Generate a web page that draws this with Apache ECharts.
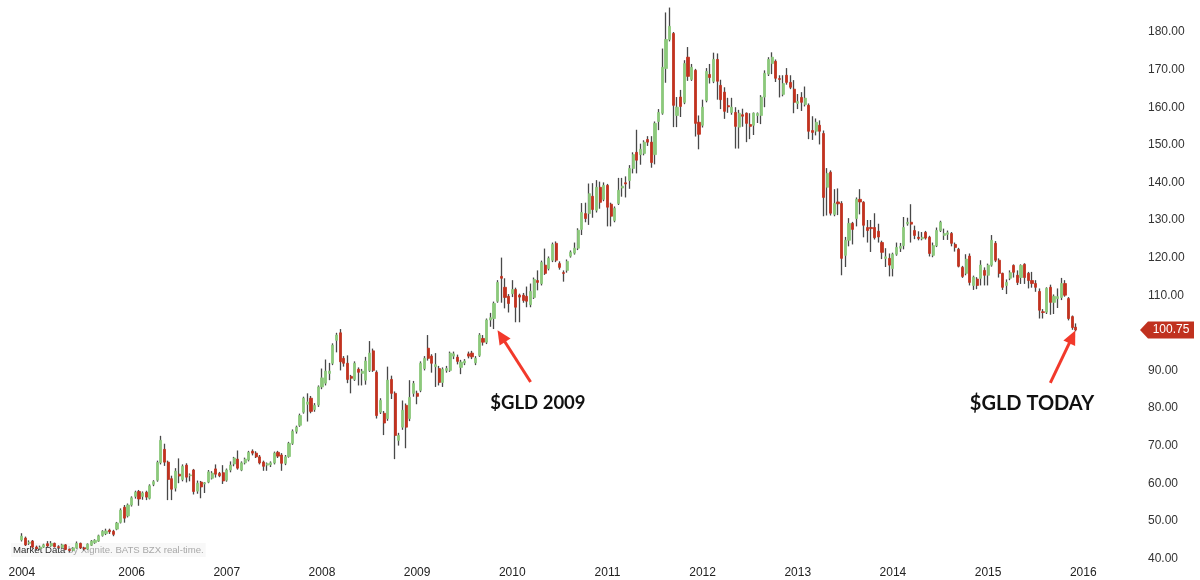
<!DOCTYPE html>
<html>
<head>
<meta charset="utf-8">
<title>GLD</title>
<script src="https://cdn.jsdelivr.net/npm/echarts@6/dist/echarts.min.js"></script>
<style>
  html, body { margin: 0; padding: 0; background: #fff; }
  #chart { width: 1200px; height: 580px; }
</style>
</head>
<body>
<div id="chart"></div>
<script>
// two-week candles of GLD, Nov 2004 .. Dec 2015 — [open, close, low, high]
const candles = [
  [44.9,45.9,44.5,46.7],[45.4,43.6,43.3,45.8],[44.0,44.3,43.6,44.8],[44.6,43.0,42.6,44.9],[43.0,42.6,42.2,43.4],
  [42.6,43.0,42.3,43.4],[43.0,43.6,42.8,43.9],[43.9,43.3,43.0,44.6],[43.3,44.0,43.1,44.6],[44.0,43.1,42.9,44.2],
  [43.1,42.9,42.5,43.5],[42.9,43.6,42.7,43.9],[43.6,42.4,42.2,43.8],[42.4,42.1,41.6,42.6],[42.1,42.8,41.9,43.0],
  [42.8,44.0,42.6,44.5],[44.0,42.8,42.5,44.2],[42.8,42.5,42.1,43.1],[42.5,43.8,42.3,44.0],[43.5,44.6,43.3,44.9],
  [44.2,44.8,43.9,45.1],[44.6,46.0,44.4,46.3],[46.1,47.2,45.8,47.5],[46.6,47.3,46.2,47.9],[47.5,47.1,46.5,47.9],
  [47.2,46.4,45.9,47.6],[47.8,49.4,47.5,49.7],[49.6,52.8,49.3,53.3],[53.6,50.7,49.5,54.2],[51.3,54.2,50.9,54.6],
  // 2006
  [54.2,56.1,53.8,56.5],[56.5,57.6,55.9,58.0],[57.8,55.8,54.0,58.2],[56.5,57.4,55.6,57.8],[57.6,56.3,55.5,58.0],
  [56.0,59.3,55.7,59.7],[59.7,60.4,59.2,60.8],[60.8,65.5,60.4,66.0],[65.5,71.4,65.0,72.6],[69.0,65.6,64.6,70.5],
  [65.6,61.0,55.5,66.0],[61.2,58.4,55.5,62.0],[58.7,63.2,57.8,64.0],[62.4,61.9,60.0,66.6],[61.0,64.5,60.5,65.0],
  [64.8,61.6,60.2,65.3],[62.0,62.2,60.5,62.6],[63.5,57.8,57.0,63.8],[57.9,60.0,57.2,60.7],[60.3,59.0,56.0,60.6],
  [59.8,60.1,57.4,60.3],[60.3,63.0,60.0,63.5],[61.3,62.7,61.0,63.2],[63.8,62.4,61.5,65.0],[62.6,62.0,61.6,63.0],
  [62.8,60.6,59.8,64.8],
  // 2007
  [60.8,63.5,60.4,63.9],[63.5,64.8,62.9,65.8],[65.1,66.7,64.5,67.0],[66.4,64.0,63.6,68.7],[63.5,65.4,63.2,65.8],
  [65.4,66.4,65.0,66.8],[66.2,68.2,65.8,68.6],[68.5,68.0,67.4,69.0],[68.0,67.0,66.7,68.5],[67.0,65.4,65.0,67.5],
  [65.6,64.5,63.3,66.0],[64.8,65.2,63.3,65.5],[64.9,65.4,64.3,65.8],[65.4,68.0,65.0,68.4],[68.2,67.2,66.7,68.6],
  [67.5,65.3,63.3,68.0],[65.3,67.0,64.8,67.5],[67.1,70.6,66.8,71.0],[70.6,73.8,70.2,74.3],[73.8,74.9,73.2,75.3],
  [75.4,78.0,75.0,78.5],[78.9,82.6,78.5,83.0],[81.0,81.6,76.4,83.9],[82.6,79.1,78.6,83.2],[79.6,80.7,79.0,81.3],
  [80.8,85.6,80.3,86.0],
  // 2008
  [85.6,88.0,85.0,90.5],[86.6,89.8,86.0,92.9],[89.2,89.8,87.4,92.0],[91.9,96.7,91.4,97.2],[98.0,99.4,94.8,100.0],
  [100.0,92.3,90.0,101.0],[93.2,91.9,91.0,93.8],[91.9,87.6,86.6,94.0],[88.4,87.9,83.9,88.8],[87.6,91.9,87.2,92.4],
  [90.3,89.5,86.0,90.8],[89.2,89.8,86.0,90.4],[87.4,92.5,86.2,93.6],[90.0,94.6,89.6,97.8],[95.2,90.0,89.6,95.8],
  [89.5,78.0,77.2,90.0],[78.9,82.0,78.4,82.6],[78.6,76.0,72.8,79.2],[77.2,87.4,76.6,91.0],[87.6,83.9,82.4,88.6],
  [83.9,72.7,66.4,84.4],[71.4,72.7,70.0,73.4],[74.9,79.4,74.2,82.0],[80.7,74.9,69.3,81.2],[77.2,82.8,76.5,87.4],
  [83.9,86.5,83.0,87.2],
  // 2009
  [83.9,83.1,81.0,84.6],[84.7,91.9,84.2,92.4],[90.5,93.2,90.0,93.8],[95.9,93.2,92.6,99.4],[93.8,91.9,89.4,94.3],
  [91.0,91.5,85.6,94.6],[90.5,86.8,86.0,91.2],[86.8,90.3,85.6,90.8],[90.0,90.5,89.4,91.2],[90.0,94.6,89.6,95.0],
  [93.8,94.4,93.0,95.0],[93.5,92.4,91.6,94.2],[90.8,92.2,89.0,92.8],[92.0,92.5,91.4,93.0],[94.4,93.8,93.2,95.0],
  [94.6,93.6,93.0,95.2],[92.0,93.2,91.4,93.8],[94.0,99.4,93.6,99.9],[98.5,97.5,96.6,99.4],[97.5,103.4,97.0,103.8],
  [103.4,104.0,101.6,105.3],[103.8,107.8,101.0,108.3],[108.4,113.4,108.0,114.0],[115.0,114.5,108.0,120.0],[112.1,109.4,106.5,114.5],
  [109.7,107.8,105.4,110.3],
  // 2010
  [110.4,111.5,109.5,114.0],[111.5,106.8,102.8,112.0],[110.0,109.5,102.8,110.4],[110.0,108.6,108.0,110.6],[109.7,108.4,106.8,112.3],
  [107.5,111.0,106.8,113.1],[109.4,114.2,109.0,114.7],[113.9,113.4,111.3,116.6],[113.1,118.7,112.6,119.2],[118.0,115.8,115.4,122.4],
  [117.1,119.8,116.6,120.3],[119.3,123.5,118.8,124.0],[123.8,119.3,118.8,124.3],[118.4,117.4,116.8,119.0],[116.0,115.8,113.6,116.6],
  [116.6,119.0,116.0,119.5],[120.4,121.4,120.0,121.9],[121.2,122.5,120.8,124.0],[122.5,127.3,122.0,127.8],[127.5,132.0,126.0,134.5],
  [131.7,130.4,129.4,134.6],[131.7,137.0,128.7,139.7],[136.3,132.8,130.6,139.8],[132.6,138.7,132.0,140.6],[138.7,134.7,133.0,140.2],
  [135.5,139.2,135.0,140.0],
  // 2011
  [139.2,133.4,128.3,139.6],[134.2,131.0,128.3,134.6],[129.9,133.1,129.4,133.6],[134.4,137.9,134.0,141.2],[138.5,139.0,136.2,141.2],
  [139.9,139.6,136.0,141.6],[140.5,143.7,138.3,144.6],[143.7,147.4,142.4,148.0],[148.0,145.9,142.4,154.0],[147.4,148.8,144.7,150.3],
  [147.7,150.7,147.2,151.2],[151.4,150.7,149.7,152.3],[150.7,145.3,143.9,152.3],[147.4,155.7,144.8,156.2],[156.2,158.6,153.9,159.5],
  [158.4,170.6,158.0,175.6],[170.3,178.0,166.5,185.2],[178.0,181.5,177.5,186.5],[179.6,160.5,154.7,180.0],[157.8,160.0,154.7,162.7],
  [162.7,160.2,157.4,164.6],[161.3,171.6,160.8,172.5],[173.3,168.2,167.0,176.0],[167.4,170.6,167.0,171.5],[169.8,155.7,152.2,170.2],
  [156.0,152.8,148.8,157.8],
  // 2012
  [155.2,160.0,154.6,162.0],[161.8,169.5,161.3,170.4],[168.7,167.9,166.3,171.5],[166.9,172.7,166.4,174.5],[172.7,166.9,162.0,174.3],
  [165.8,162.0,159.5,167.3],[164.0,158.9,156.9,165.3],[160.4,160.1,158.5,162.5],[158.6,160.0,158.0,162.5],[158.6,154.9,149.0,160.0],
  [154.7,158.4,149.0,159.3],[158.0,157.6,154.8,159.6],[158.4,155.7,150.7,158.6],[155.4,154.9,151.5,158.4],[155.2,158.4,152.6,158.6],
  [157.8,158.3,155.8,158.6],[157.8,162.7,155.5,163.2],[162.7,169.0,160.0,169.8],[168.8,172.7,168.3,173.3],[171.6,173.3,168.8,174.6],
  [172.2,167.7,166.7,172.7],[167.6,167.4,162.6,168.5],[163.4,166.3,162.9,168.5],[168.5,166.6,166.0,170.4],[166.6,165.3,164.8,168.5],
  [164.8,161.3,158.4,167.2],
  // 2013
  [161.0,161.5,159.5,163.5],[162.6,161.3,159.0,164.0],[160.7,162.4,160.2,165.5],[160.5,153.6,151.5,161.0],[153.8,153.3,151.3,157.6],
  [153.6,156.0,152.5,157.0],[155.2,153.6,150.1,156.5],[153.0,136.0,131.0,153.8],[138.7,142.4,131.2,143.8],[142.7,131.8,131.2,143.2],
  [131.5,134.4,131.0,138.2],[134.8,134.3,131.3,138.4],[134.4,119.8,115.3,135.0],[120.6,124.6,117.5,125.5],[124.6,129.1,123.0,130.5],
  [129.1,127.5,123.5,129.5],[130.4,135.5,128.3,136.0],[135.5,134.8,131.5,138.2],[134.7,128.6,125.4,135.0],[128.0,127.2,124.0,130.0],
  [128.0,127.7,121.5,130.0],[128.0,125.3,124.8,131.8],[127.0,125.5,124.0,129.0],[124.0,121.4,119.6,124.5],[119.8,120.2,117.5,122.5],
  [119.8,118.0,115.0,121.1],
  // 2014
  [117.1,120.9,115.0,121.3],[120.9,122.7,120.5,124.0],[122.5,123.0,121.5,123.9],[123.2,128.0,122.2,130.8],[129.0,129.4,128.5,130.6],
  [129.4,128.9,124.0,134.2],[127.2,125.9,124.9,128.5],[125.4,125.1,124.6,127.0],[125.0,125.4,124.6,126.8],[126.7,125.2,124.8,127.1],
  [125.4,121.1,120.3,125.8],[120.6,123.2,120.1,124.0],[123.2,127.2,122.8,128.0],[127.2,129.4,126.8,129.8],[125.9,126.4,124.7,127.7],
  [126.2,126.6,124.7,127.2],[126.4,123.8,123.0,126.8],[123.5,122.7,121.6,124.0],[122.2,117.7,117.4,122.6],[117.4,115.0,114.6,117.8],
  [115.8,119.6,115.3,120.9],[120.4,113.4,112.6,121.1],[112.6,114.8,111.4,115.2],[114.3,112.6,111.6,114.8],[114.5,118.0,112.6,119.3],
  [116.6,115.3,112.6,117.4],
  // 2015
  [115.3,118.0,112.6,118.4],[118.0,124.6,117.6,126.0],[123.8,119.3,118.8,124.4],[119.3,115.8,114.7,119.8],[115.8,112.1,111.4,116.0],
  [112.6,113.4,110.3,114.2],[114.5,116.0,114.0,116.6],[117.9,116.1,114.7,118.2],[115.3,113.4,112.7,116.6],[114.7,117.9,113.0,118.2],
  [118.2,114.7,113.0,118.5],[115.8,113.9,111.8,116.2],[113.9,113.1,112.0,116.2],[113.1,112.1,110.9,114.0],[111.0,106.0,103.8,111.8],
  [105.6,105.4,103.8,106.3],[105.5,111.8,105.0,112.1],[112.1,108.1,104.8,112.8],[108.1,109.7,105.0,110.2],[109.1,109.6,106.6,111.8],
  [109.4,113.1,108.7,114.6],[113.1,110.0,109.6,114.0],[109.1,103.8,103.3,109.5],[104.3,101.4,100.8,104.6],[101.5,100.75,100.4,102.5]
];

const lastPrice = 100.75;

// text notes with arrows, positions are [candle index, price]
const notes = [
  { text: '$GLD 2009',  textAt: [128, 81.3], arrowFrom: [139, 86.9], arrowTo: [131, 99.1], size: 18.5 },
  { text: '$GLD TODAY', textAt: [259, 81.3], arrowFrom: [281, 86.7], arrowTo: [287, 98.9], size: 20 }
];

// two-week slots from the first candle; the axis runs on into 2016
const firstDate = '2004-11-19';
const slotCount = 306;
const dates = [];
for (let i = 0; i < slotCount; i++) {
  const d = new Date(Date.parse(firstDate) + i * 14 * 86400000);
  dates.push(d.toISOString().slice(0, 10));
}

const upColor = '#8cc97b';
const downColor = '#c2321f';
const wickColor = '#484848';

// bodies only: low/high clamped to the body so no coloured wick is drawn
const bodies = candles.map(([o, c]) => [o, c, Math.min(o, c), Math.max(o, c)]);

const chart = echarts.init(document.getElementById('chart'));

const option = {
  animation: false,
  backgroundColor: '#fff',
  grid: { left: 20, right: 60, top: 32, bottom: 21.6 },
  xAxis: {
    type: 'category',
    data: dates,
    boundaryGap: true,
    axisLine: { show: false },
    axisTick: { show: false },
    splitLine: { show: false },
    axisLabel: {
      color: '#222',
      fontSize: 12,
      fontFamily: 'Liberation Sans, Arial, sans-serif',
      margin: 8,
      hideOverlap: false,
      interval: (index, value) => {
        if (index === 0) return true;
        return index > 20 && value.slice(0, 4) !== dates[index - 1].slice(0, 4);
      },
      formatter: value => value.slice(0, 4)
    }
  },
  yAxis: {
    type: 'value',
    position: 'right',
    min: 40,
    max: 180,
    interval: 10,
    axisLine: { show: false },
    axisTick: { show: false },
    splitLine: { show: false },
    axisLabel: {
      color: '#333',
      fontSize: 12,
      fontFamily: 'Liberation Sans, Arial, sans-serif',
      margin: 8,
      formatter: v => (v === 100 ? '' : v.toFixed(2))
    }
  },
  series: [
    {
      name: 'wicks',
      type: 'candlestick',
      data: candles,
      barWidth: 1,
      clip: false,
      silent: true,
      itemStyle: {
        color: wickColor, color0: wickColor,
        borderColor: wickColor, borderColor0: wickColor,
        borderWidth: 1.3
      }
    },
    {
      name: 'GLD',
      type: 'candlestick',
      data: bodies,
      barWidth: 2.6,
      clip: false,
      silent: true,
      itemStyle: {
        color: upColor, color0: downColor,
        borderColor: upColor, borderColor0: downColor,
        borderWidth: 0.8
      },
      markLine: {
        silent: true,
        symbol: ['none', 'triangle'],
        symbolSize: [13, 14],
        label: { show: false },
        lineStyle: { color: '#f2392b', width: 3, type: 'solid' },
        emphasis: { disabled: true },
        data: notes.map(n => [
          { coord: [n.arrowFrom[0], n.arrowFrom[1]] },
          { coord: [n.arrowTo[0], n.arrowTo[1]] }
        ])
      }
    }
  ]
};

chart.setOption(option);

// overlays placed through the chart's own scales
const grid = { gridIndex: 0 };
const priceY = chart.convertToPixel(grid, [0, lastPrice])[1];
const axisX = chart.convertToPixel(grid, [slotCount - 1, lastPrice])[0] + 1.83;

const graphics = [
  {
    type: 'polygon',
    shape: {
      points: [
        [axisX, priceY], [axisX + 8, priceY - 8.5], [axisX + 54, priceY - 8.5],
        [axisX + 54, priceY + 8.5], [axisX + 8, priceY + 8.5]
      ]
    },
    style: { fill: '#c0311f' },
    silent: true
  },
  {
    type: 'text',
    x: axisX + 31, y: priceY,
    style: {
      text: lastPrice.toFixed(2), fill: '#fff',
      font: '12px "Liberation Sans", Arial, sans-serif',
      align: 'center', verticalAlign: 'middle'
    },
    silent: true
  },
  {
    type: 'text',
    left: 11, top: 543,
    style: {
      text: '{a|Market Data} {b|by Xignite. BATS BZX real-time.}',
      font: '9.6px "Liberation Sans", Arial, sans-serif',
      backgroundColor: 'rgba(246,246,246,0.8)',
      padding: [2, 2],
      rich: {
        a: { fill: '#2a2a2a', font: '9.6px "Liberation Sans", Arial, sans-serif' },
        b: { fill: '#a8a8a8', font: '9.6px "Liberation Sans", Arial, sans-serif' }
      }
    },
    silent: true
  }
];

notes.forEach(n => {
  const p = chart.convertToPixel(grid, n.textAt);
  graphics.push({
    type: 'text',
    x: p[0], y: p[1],
    style: {
      text: n.text, fill: '#111',
      font: 'bold ' + n.size + 'px Lato, "Open Sans", sans-serif',
      align: 'left', verticalAlign: 'middle'
    },
    silent: true
  });
});

chart.setOption({ graphic: graphics });

window.addEventListener('resize', () => chart.resize());
</script>
</body>
</html>
